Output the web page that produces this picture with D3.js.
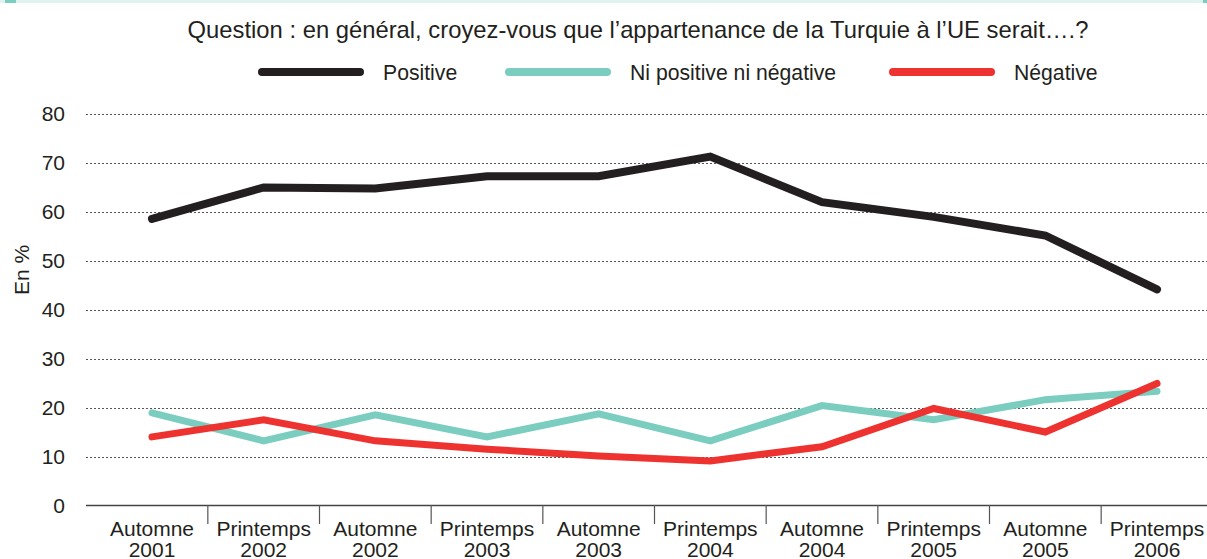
<!DOCTYPE html>
<html>
<head>
<meta charset="utf-8">
<script src="https://cdn.jsdelivr.net/npm/d3@7"></script>
<style>
  body { margin: 0; background: #fff; }
  text { font-family: "Liberation Sans", Arial, sans-serif; fill: #231f20; }
</style>
</head>
<body>
<div id="chart"></div>
<script>
// categories and values
var periods = ["Automne|2001", "Printemps|2002", "Automne|2002", "Printemps|2003", "Automne|2003",
               "Printemps|2004", "Automne|2004", "Printemps|2005", "Automne|2005", "Printemps|2006"];
var positive = [58.6, 65.0, 64.8, 67.3, 67.3, 71.3, 62.0, 59.0, 55.2, 44.2];
var neutral  = [19.0, 13.3, 18.6, 14.1, 18.8, 13.3, 20.5, 17.6, 21.7, 23.4];
var negative = [14.1, 17.6, 13.3, 11.6, 10.2,  9.2, 12.1, 19.9, 15.1, 25.0];
var yTicks = [0, 10, 20, 30, 40, 50, 60, 70, 80];

var series = [
  {name: "Positive", values: positive, color: "#231f20", width: 8},
  {name: "Ni positive ni négative", values: neutral, color: "#7bcdc0", width: 7},
  {name: "Négative", values: negative, color: "#ee3230", width: 7}
];

var width = 1207, height = 559;

var svg = d3.select("#chart").append("svg")
    .attr("width", width)
    .attr("height", height);

// thin band at the top of the frame
svg.append("rect").attr("x", 0).attr("y", 0).attr("width", width).attr("height", 3).attr("fill", "#e0f3ee");
svg.append("rect").attr("x", 5).attr("y", 0).attr("width", 11).attr("height", 3).attr("fill", "#7bcdc0");
svg.append("rect").attr("x", 1203).attr("y", 0).attr("width", 4).attr("height", 3).attr("fill", "#7bcdc0");

var x = d3.scalePoint()
    .domain(periods)
    .range([152, 1157]);

var y = d3.scaleLinear()
    .domain([0, 80])
    .range([506, 114]);

// title
svg.append("text")
    .attr("x", 638)
    .attr("y", 38)
    .attr("text-anchor", "middle")
    .style("font-size", "23.8px")
    .text("Question : en général, croyez-vous que l’appartenance de la Turquie à l’UE serait….?");

// legend
var legendX = [258, 505, 889];
var legend = svg.append("g").selectAll("g")
    .data(series)
    .enter().append("g")
    .attr("transform", function(d, i) { return "translate(" + legendX[i] + ",72)"; });
legend.append("line")
    .attr("x1", 4).attr("x2", 102)
    .attr("stroke", function(d) { return d.color; })
    .attr("stroke-width", 8)
    .attr("stroke-linecap", "round");
legend.append("text")
    .attr("x", 125)
    .attr("y", 8)
    .style("font-size", "21.2px")
    .text(function(d) { return d.name; });

// gridlines
svg.append("g").selectAll("line")
    .data(yTicks.filter(function(d) { return d > 0; }))
    .enter().append("line")
    .attr("x1", 86).attr("x2", width)
    .attr("y1", function(d) { return y(d) + 0.5; })
    .attr("y2", function(d) { return y(d) + 0.5; })
    .attr("stroke", "#555")
    .attr("stroke-width", 1)
    .attr("stroke-dasharray", "2,2");

// y labels
svg.append("g").selectAll("text")
    .data(yTicks)
    .enter().append("text")
    .attr("x", 65)
    .attr("y", function(d) { return y(d) + 7; })
    .attr("text-anchor", "end")
    .style("font-size", "21px")
    .text(function(d) { return d; });

svg.append("text")
    .attr("transform", "translate(29,270) rotate(-90)")
    .attr("text-anchor", "middle")
    .style("font-size", "21px")
    .text("En %");

// x axis line and separators
svg.append("line")
    .attr("x1", 86).attr("x2", width)
    .attr("y1", 505.5).attr("y2", 505.5)
    .attr("stroke", "#444").attr("stroke-width", 1.3);

var step = x.step();
svg.append("g").selectAll("line")
    .data(periods.slice(1))
    .enter().append("line")
    .attr("x1", function(d) { return x(d) - step / 2; })
    .attr("x2", function(d) { return x(d) - step / 2; })
    .attr("y1", 505).attr("y2", 524)
    .attr("stroke", "#555").attr("stroke-width", 1.2);

var xl = svg.append("g").selectAll("text")
    .data(periods)
    .enter().append("text")
    .attr("text-anchor", "middle")
    .style("font-size", "21px");
xl.append("tspan")
    .attr("x", function(d) { return x(d); })
    .attr("y", 536)
    .text(function(d) { return d.split("|")[0]; });
xl.append("tspan")
    .attr("x", function(d) { return x(d); })
    .attr("y", 557)
    .text(function(d) { return d.split("|")[1]; });

// lines
var line = d3.line()
    .x(function(d, i) { return x(periods[i]); })
    .y(function(d) { return y(d); });

svg.append("g").selectAll("path")
    .data([series[1], series[2], series[0]])
    .enter().append("path")
    .attr("d", function(d) { return line(d.values); })
    .attr("fill", "none")
    .attr("stroke", function(d) { return d.color; })
    .attr("stroke-width", function(d) { return d.width; })
    .attr("stroke-linecap", "round")
    .attr("stroke-linejoin", "miter");
</script>
</body>
</html>
